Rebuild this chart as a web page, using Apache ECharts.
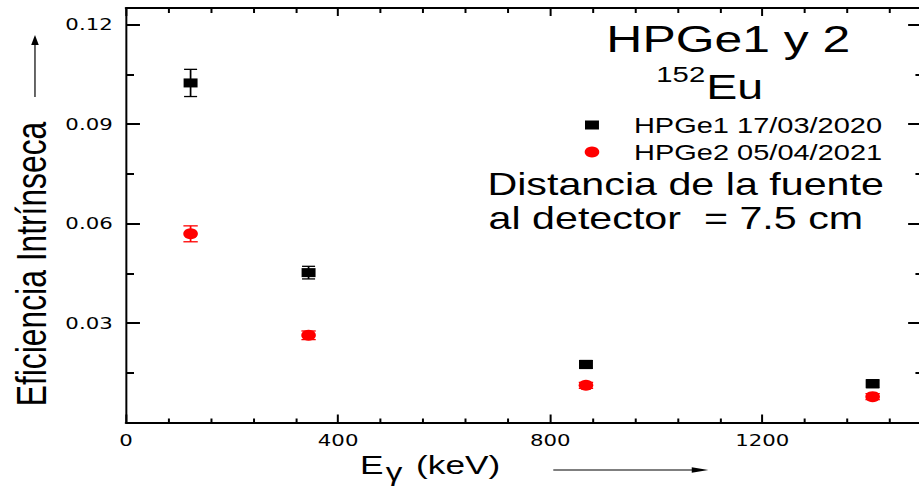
<!DOCTYPE html>
<html>
<head>
<meta charset="utf-8">
<script src="https://cdn.jsdelivr.net/npm/echarts@6/dist/echarts.min.js"></script>
<style>
  html, body { margin: 0; padding: 0; background: #fff; overflow: hidden; }
  /* The plot is laid out on a 691px-wide canvas and widened to the 919px page. */
  #chart { width: 691px; height: 492px; transform: scaleX(1.33); transform-origin: 0 0; }
</style>
</head>
<body>
<div id="chart"></div>
<script>
// Gamma-ray energies of 152Eu lines (keV)
const energyKeV = [121.78, 344.28, 867.38, 1408.01];
// Intrinsic efficiency and uncertainty, HPGe1 (17/03/2020)
const effHPGe1 = [0.1024, 0.0452, 0.0175, 0.0117];
const errHPGe1 = [0.0041, 0.0019, 0.0012, 0.0012];
// Intrinsic efficiency and uncertainty, HPGe2 (05/04/2021)
const effHPGe2 = [0.0569, 0.0263, 0.0112, 0.0078];
const errHPGe2 = [0.0024, 0.0013, 0.0009, 0.0009];

const seriesNames = ['HPGe1 17/03/2020', 'HPGe2 05/04/2021'];

// Axis ticks and labels
const xMajorTicks = [0, 400, 800, 1200];
const xMinorTicks = [80, 160, 240, 320, 480, 560, 640, 720, 880, 960, 1040, 1120, 1280, 1360, 1440];
const xTickLabels = ['0', '400', '800', '1200'];
const yMajorTicks = [0, 0.03, 0.06, 0.09, 0.12];
const yMinorTicks = [0.015, 0.045, 0.075, 0.105];
const yLabelValues = [0.03, 0.06, 0.09, 0.12];
const yTickLabels = ['0.03', '0.06', '0.09', '0.12'];

const X_MIN = 0, X_MAX = 1500, Y_MIN = 0, Y_MAX = 0.125;

function labelFor(values, labels) {
  return function (v) {
    const i = values.findIndex(t => Math.abs(t - v) < 1e-9);
    return i >= 0 ? labels[i] : '';
  };
}

const black = '#000000';
const red = '#ff0000';
const labelFont = { fontFamily: 'DejaVu Sans', fontSize: 16, color: black };

function xAxisDef(position, ticks, len, withLine, withLabels) {
  return {
    type: 'value', position: position, min: X_MIN, max: X_MAX,
    axisLine: { show: withLine, onZero: false, lineStyle: { color: black, width: 2 } },
    axisTick: { show: true, inside: true, length: len, customValues: ticks,
                lineStyle: { color: black, width: 1.5 } },
    axisLabel: withLabels
      ? Object.assign({ show: true, margin: 10, customValues: xMajorTicks,
                        formatter: labelFor(xMajorTicks, xTickLabels) }, labelFont)
      : { show: false },
    splitLine: { show: false }
  };
}

function yAxisDef(position, ticks, len, withLine, withLabels) {
  return {
    type: 'value', position: position, min: Y_MIN, max: Y_MAX,
    axisLine: { show: withLine, onZero: false, lineStyle: { color: black, width: 1.5 } },
    axisTick: { show: true, inside: true, length: len, customValues: ticks,
                lineStyle: { color: black, width: 2 } },
    axisLabel: withLabels
      ? Object.assign({ show: true, margin: 10, customValues: yLabelValues,
                        formatter: labelFor(yLabelValues, yTickLabels) }, labelFont)
      : { show: false },
    splitLine: { show: false }
  };
}

function errorBars(color, capHalf) {
  return function (params, api) {
    const x = api.value(0), y = api.value(1), e = api.value(2);
    const hi = api.coord([x, y + e]);
    const lo = api.coord([x, y - e]);
    const st = { stroke: color, lineWidth: 1.3 };
    return {
      type: 'group',
      children: [
        { type: 'line', shape: { x1: hi[0], y1: hi[1], x2: lo[0], y2: lo[1] }, style: st },
        { type: 'line', shape: { x1: hi[0] - capHalf, y1: hi[1], x2: hi[0] + capHalf, y2: hi[1] }, style: st },
        { type: 'line', shape: { x1: lo[0] - capHalf, y1: lo[1], x2: lo[0] + capHalf, y2: lo[1] }, style: st }
      ]
    };
  };
}

const legendText = { fontFamily: 'Liberation Sans', fontSize: 21.8, color: black,
                     lineHeight: 20, padding: [0, 0, 0, 21.3] };

function txt(x, y, text, size, align, extra) {
  return Object.assign({
    type: 'text', x: x, y: y, silent: true,
    style: { x: 0, y: 0, text: text, fill: black, fontFamily: 'Liberation Sans',
             fontSize: size, textAlign: align, textVerticalAlign: 'middle' }
  }, extra || {});
}

const chart = echarts.init(document.getElementById('chart'), null, { renderer: 'svg' });

chart.setOption({
  animation: false,
  backgroundColor: '#ffffff',
  grid: { left: 94.74, top: 8, right: -1.8, bottom: 69.5, containLabel: false, outerBoundsMode: 'none' },
  xAxis: [
    xAxisDef('bottom', xMajorTicks, 8, true, true),
    xAxisDef('bottom', xMinorTicks, 4, false, false),
    xAxisDef('top', xMajorTicks, 8, true, false),
    xAxisDef('top', xMinorTicks, 5, false, false)
  ],
  yAxis: [
    yAxisDef('left', yMajorTicks, 10.5, true, true),
    yAxisDef('left', yMinorTicks, 6, false, false),
    yAxisDef('right', yMajorTicks, 10, true, false),
    yAxisDef('right', yMinorTicks, 4.5, false, false)
  ],
  legend: [
    { data: [{ name: seriesNames[0], icon: 'rect' }], orient: 'vertical', left: 439.85, top: 114,
      itemWidth: 10.5, itemHeight: 9, padding: 0, selectedMode: false, textStyle: legendText },
    { data: [{ name: seriesNames[1], icon: 'circle' }], orient: 'vertical', left: 439.6, top: 141,
      itemWidth: 11, itemHeight: 11, padding: 0, selectedMode: false,
      textStyle: Object.assign({}, legendText, { padding: [0, 0, 0, 21.1] }) }
  ],
  series: [
    { type: 'custom', xAxisIndex: 0, yAxisIndex: 0, z: 2, silent: true,
      renderItem: errorBars(black, 4.9), encode: { x: 0, y: 1 },
      data: energyKeV.map((e, i) => [e, effHPGe1[i], errHPGe1[i]]) },
    { type: 'custom', xAxisIndex: 0, yAxisIndex: 0, z: 2, silent: true,
      renderItem: errorBars(red, 5.4), encode: { x: 0, y: 1 },
      data: energyKeV.map((e, i) => [e, effHPGe2[i], errHPGe2[i]]) },
    { name: seriesNames[0], type: 'scatter', xAxisIndex: 0, yAxisIndex: 0, z: 3,
      symbol: 'rect', symbolSize: [10.5, 9], itemStyle: { color: black, opacity: 1 },
      data: energyKeV.map((e, i) => [e, effHPGe1[i]]) },
    { name: seriesNames[1], type: 'scatter', xAxisIndex: 0, yAxisIndex: 0, z: 3,
      symbol: 'circle', symbolSize: 11, itemStyle: { color: red, opacity: 1 },
      data: energyKeV.map((e, i) => [e, effHPGe2[i]]) }
  ],
  graphic: [
    // axis titles
    txt(23.3, 264, 'Eficiencia Intrínseca', 31.8, 'center', { rotation: Math.PI / 2 }),
    txt(270.7, 465, 'E', 26.5, 'left'),
    txt(290, 472.5, 'γ', 25, 'left'),
    txt(312.8, 465, '(keV)', 26.5, 'left'),
    // direction arrows
    { type: 'line', silent: true, shape: { x1: 26.3, y1: 97, x2: 26.3, y2: 44 },
      style: { stroke: black, lineWidth: 0.9 } },
    { type: 'polygon', silent: true, shape: { points: [[26.3, 35], [23.45, 45], [29.15, 45]] },
      style: { fill: black } },
    { type: 'line', silent: true, shape: { x1: 416, y1: 470, x2: 522, y2: 470 },
      style: { stroke: black, lineWidth: 1 } },
    { type: 'polygon', silent: true, shape: { points: [[532.6, 470], [520.1, 467.3], [520.1, 472.7]] },
      style: { fill: black } },
    // annotations
    txt(547.6, 38.6, 'HPGe1 y 2', 37.5, 'center'),
    txt(493.5, 74, '152', 22, 'left'),
    txt(531, 87, 'Eu', 35, 'left'),
    txt(366.5, 184, 'Distancia de la fuente', 31, 'left'),
    txt(367.3, 218.3, 'al detector  = 7.5 cm', 31, 'left')
  ]
});
</script>
</body>
</html>
